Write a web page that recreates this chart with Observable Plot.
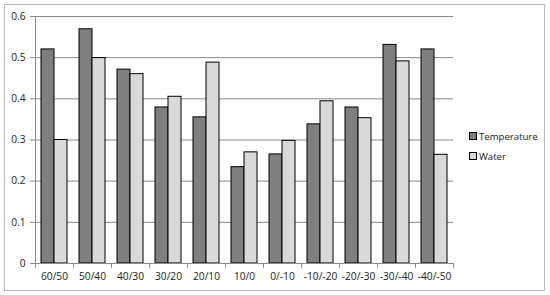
<!DOCTYPE html>
<html>
<head>
<meta charset="utf-8">
<script src="https://cdn.jsdelivr.net/npm/d3@7"></script>
<script src="https://cdn.jsdelivr.net/npm/@observablehq/plot@0.6"></script>
<style>
  html, body { margin: 0; padding: 0; background: #fff; }
  #wrap { position: relative; width: 550px; height: 295px; font-family: "Open Sans", sans-serif; }
  #frame { position: absolute; left: 4px; top: 4px; width: 539px; height: 285px; border: 1px solid #b8b8b8; pointer-events: none; }
  .leg { position: absolute; left: 469px; font-size: 9.6px; color: #222; line-height: 12px; white-space: nowrap; }
  .leg span.sw { display: inline-block; width: 6px; height: 6px; border: 1px solid #000; margin-right: 2px; vertical-align: 0px; }
</style>
</head>
<body>
<div id="wrap">
  <div id="frame"></div>
  <div id="chart"></div>
  <div id="legend"></div>
</div>
<script>
const categories = ["60/50", "50/40", "40/30", "30/20", "20/10", "10/0", "0/-10", "-10/-20", "-20/-30", "-30/-40", "-40/-50"];
const seriesNames = ["Temperature", "Water"];
const temperature = [0.52, 0.569, 0.471, 0.379, 0.355, 0.234, 0.265, 0.338, 0.379, 0.531, 0.52];
const water = [0.30, 0.499, 0.46, 0.405, 0.488, 0.27, 0.298, 0.394, 0.353, 0.491, 0.264];
const yTicks = [0, 0.1, 0.2, 0.3, 0.4, 0.5, 0.6];
const colors = ["#7f7f7f", "#d9d9d9"];

const W = 550, H = 295;
const mL = 35, mR = 97, mT = 16, mB = 32;
const bw = (W - mL - mR) / categories.length;
const barW = 13;
const gap = (bw - 2 * barW) / 2;

const rows = [];
categories.forEach((c, i) => {
  rows.push({category: c, series: "Temperature", value: temperature[i]});
  rows.push({category: c, series: "Water", value: water[i]});
});

const gridColor = "#8a8a8a";

const plot = Plot.plot({
  width: W,
  height: H,
  marginLeft: mL,
  marginRight: mR,
  marginTop: mT,
  marginBottom: mB,
  style: {fontFamily: "'Open Sans', sans-serif", fontSize: "10.2px", color: "#222", background: "transparent"},
  x: {domain: categories, padding: 0, label: null},
  y: {domain: [0, 0.6], label: null},
  color: {domain: seriesNames, range: colors},
  marks: [
    Plot.ruleY(yTicks.filter(d => d > 0), {stroke: gridColor, strokeOpacity: 1}),
    Plot.axisY({ticks: yTicks, tickSize: 5, tickPadding: 5, stroke: gridColor, tickFormat: d => d === 0 ? "0" : d.toFixed(1), label: null}),
    Plot.axisX({tickSize: 0, tickPadding: 9, label: null}),
    Plot.barY(rows.filter(r => r.series === "Temperature"), {x: "category", y: "value", fill: "series", stroke: "#000", strokeWidth: 1, insetLeft: gap, insetRight: bw - gap - barW}),
    Plot.barY(rows.filter(r => r.series === "Water"), {x: "category", y: "value", fill: "series", stroke: "#000", strokeWidth: 1, insetLeft: gap + barW, insetRight: gap}),
    Plot.ruleY([0], {stroke: gridColor}),
    Plot.ruleX([categories[0]], {x: d => d, dx: -bw / 2, y1: 0, y2: 0.6, stroke: gridColor}),
    Plot.ruleX(categories, {x: d => d, dx: -bw / 2, y1: 0, y2: -0.012, stroke: gridColor}),
    Plot.ruleX([categories[categories.length - 1]], {x: d => d, dx: bw / 2, y1: 0, y2: -0.012, stroke: gridColor})
  ]
});
document.getElementById("chart").appendChild(plot);

const legend = document.getElementById("legend");
seriesNames.forEach((s, i) => {
  const d = document.createElement("div");
  d.className = "leg";
  d.style.top = (131 + i * 19.5) + "px";
  d.innerHTML = `<span class="sw" style="background:${colors[i]}"></span>${s}`;
  legend.appendChild(d);
});
</script>
</body>
</html>
